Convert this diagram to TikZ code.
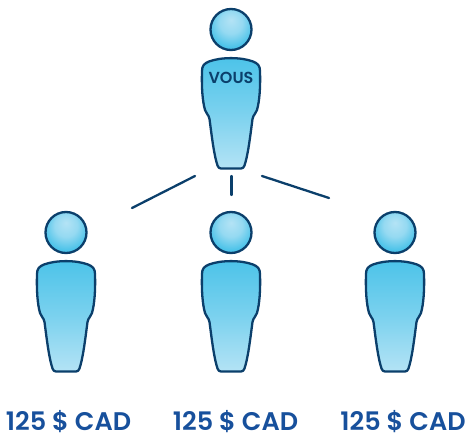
\documentclass[tikz,border=0pt]{standalone}
\usepackage{fontspec}
\setmainfont{Poppins}[BoldFont={Poppins SemiBold}]
\usetikzlibrary{calc}
\definecolor{navy}{HTML}{0B3F6B}
\definecolor{labelblue}{HTML}{17509C}
\definecolor{skydark}{HTML}{4CC3E9}
\definecolor{skylight}{HTML}{B4E3F5}
\pgfdeclareradialshading{headshade}{\pgfpoint{0bp}{12bp}}{color(0bp)=(skylight); color(14bp)=(skylight!70!skydark); color(27bp)=(skydark); color(50bp)=(skydark)}
\tikzset{
  outline/.style={draw=navy,line width=2.3pt,line join=round},
  linkline/.style={draw=navy,line width=2.3pt,line cap=round},
  amount/.style={font=\bfseries\fontsize{25.5}{30}\selectfont,text=labelblue,inner sep=0pt,anchor=base},
  person/.pic={
    \shade[outline,top color=skydark,bottom color=skylight,middle color=skydark!55!skylight]
      (-29,18) .. controls (-29,13) and (-27,10.5) .. (-22,8.5)
      .. controls (-10,4) and (10,4) .. (22,8.5)
      .. controls (27,10.5) and (29,13) .. (29,18)
      .. controls (29.5,35) and (28.5,48) .. (26,57)
      .. controls (25,61) and (22.5,61) .. (21.5,66)
      .. controls (19,85) and (17,102) .. (13.5,112.5)
      .. controls (13,114.5) and (11.5,115.5) .. (10,115.5)
      -- (-10,115.5)
      .. controls (-11.5,115.5) and (-13,114.5) .. (-13.5,112.5)
      .. controls (-17,102) and (-19,85) .. (-21.5,66)
      .. controls (-22.5,61) and (-25,61) .. (-26,57)
      .. controls (-28.5,48) and (-29.5,35) .. (-29,18) -- cycle;
    \path[outline,shading=headshade] (0,-23.5) circle (20.5);
  }
}
\begin{document}
\begin{tikzpicture}[x=1pt,y=-1pt]
\useasboundingbox (0,0) rectangle (469,436);
\pic at (231,53) {person};
\pic at (66,256) {person};
\pic at (231,256) {person};
\pic at (395,256) {person};
\node[font=\bfseries\fontsize{16}{19}\selectfont,text=navy,inner sep=0pt] (you) at (231,78) {VOUS};
\node[amount] (left) at (68.5,430.5) {125 \$ CAD};
\node[amount] (mid) at (235.5,430.5) {125 \$ CAD};
\node[amount] (right) at (403,430.5) {125 \$ CAD};
\coordinate (la) at (195,176); \coordinate (lb) at (132,208);
\coordinate (ma) at (231.5,176); \coordinate (mb) at (231.5,195);
\coordinate (ra) at (262,176); \coordinate (rb) at (329,198);
\draw[linkline] (la) -- (lb);
\draw[linkline] (ma) -- (mb);
\draw[linkline] (ra) -- (rb);
\end{tikzpicture}
\end{document}
